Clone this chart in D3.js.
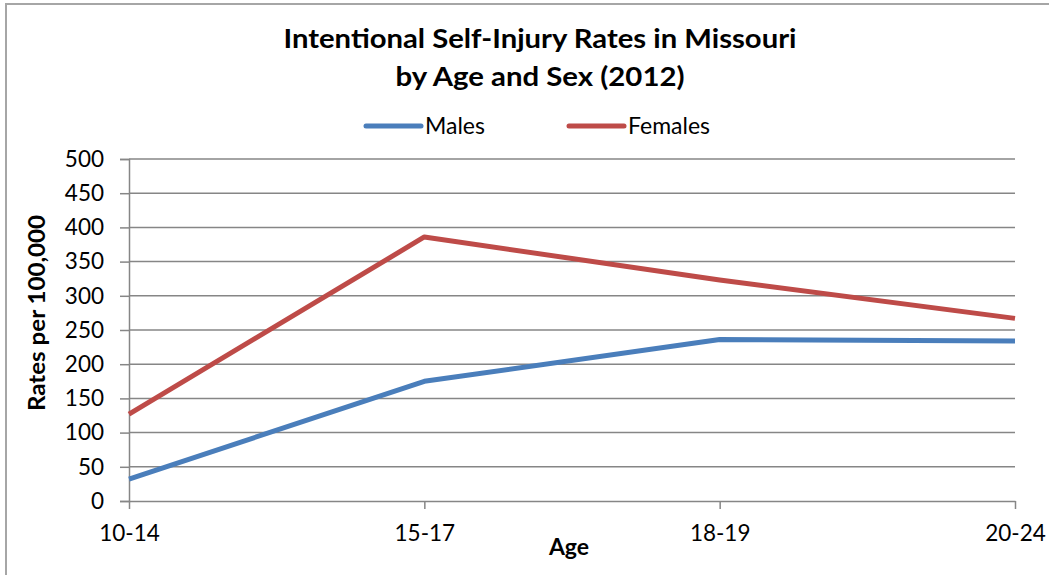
<!DOCTYPE html>
<html>
<head>
<meta charset="utf-8">
<script src="https://cdn.jsdelivr.net/npm/d3@7"></script>
<style>
  body { margin: 0; background: #fff; }
  text { font-family: Lato, "Open Sans", sans-serif; fill: #000; }
</style>
</head>
<body>
<script>
var ages = ["10-14", "15-17", "18-19", "20-24"];
var males = [32, 175, 236, 234];
var females = [127, 386, 323, 267];
var yTicks = [0, 50, 100, 150, 200, 250, 300, 350, 400, 450, 500];
var seriesNames = ["Males", "Females"];
var seriesColors = ["#4a7ebb", "#be4b48"];

var W = 1049, H = 575;
var margin = {top: 159, right: 34, bottom: 74, left: 129};
var width = W - margin.left - margin.right,
    height = H - margin.top - margin.bottom;

var svg = d3.select("body").append("svg")
    .attr("width", W)
    .attr("height", H);

// outer chart border (top and left visible)
svg.append("rect")
    .attr("x", 6).attr("y", 4)
    .attr("width", W + 20).attr("height", H + 20)
    .attr("fill", "none")
    .attr("stroke", "#a6a6a6")
    .attr("stroke-width", 2);

var x = d3.scalePoint().domain(ages).range([0, width]);
var y = d3.scaleLinear().domain([0, 500]).range([height, 0]);

var g = svg.append("g")
    .attr("transform", "translate(" + margin.left + "," + margin.top + ")");

// gridlines + y axis
var yAxis = g.append("g")
    .call(d3.axisLeft(y).tickValues(yTicks).tickSize(9).tickPadding(16));
yAxis.select(".domain").attr("stroke", "#868686").attr("stroke-width", 1.5);
yAxis.selectAll(".tick line").attr("stroke", "#868686").attr("stroke-width", 1.5);
yAxis.selectAll(".tick text").style("font-size", "22.5px").style("font-family", "Lato, sans-serif");

g.append("g").selectAll("line")
    .data(yTicks.filter(function(d) { return d > 0; }))
    .enter().append("line")
    .attr("x1", 0).attr("x2", width)
    .attr("y1", function(d) { return y(d); })
    .attr("y2", function(d) { return y(d); })
    .attr("stroke", "#868686")
    .attr("stroke-width", 1.5);

var xAxis = g.append("g")
    .attr("transform", "translate(0," + height + ")")
    .call(d3.axisBottom(x).tickSize(8).tickPadding(16).tickSizeOuter(0));
xAxis.select(".domain").attr("stroke", "#868686").attr("stroke-width", 1.5);
xAxis.selectAll(".tick line").attr("stroke", "#868686").attr("stroke-width", 1.5);
xAxis.selectAll(".tick text").style("font-size", "22.5px").style("font-family", "Lato, sans-serif");

// lines
var line = d3.line()
    .x(function(d, i) { return x(ages[i]); })
    .y(function(d) { return y(d); });

[males, females].forEach(function(vals, i) {
  g.append("path")
      .datum(vals)
      .attr("fill", "none")
      .attr("stroke", seriesColors[i])
      .attr("stroke-width", 5)
      .attr("stroke-linejoin", "round")
      .attr("d", line);
});

// title
svg.append("text")
    .attr("x", 540).attr("y", 48)
    .attr("text-anchor", "middle")
    .attr("textLength", 513).attr("lengthAdjust", "spacingAndGlyphs")
    .style("font-size", "27px").style("font-weight", "bold")
    .text("Intentional Self-Injury Rates in Missouri");
svg.append("text")
    .attr("x", 540).attr("y", 86)
    .attr("text-anchor", "middle")
    .attr("textLength", 289).attr("lengthAdjust", "spacingAndGlyphs")
    .style("font-size", "27px").style("font-weight", "bold")
    .text("by Age and Sex (2012)");

// legend
var legendX = [366, 569];
seriesNames.forEach(function(name, i) {
  svg.append("line")
      .attr("x1", legendX[i]).attr("x2", legendX[i] + 55)
      .attr("y1", 126).attr("y2", 126)
      .attr("stroke", seriesColors[i])
      .attr("stroke-width", 5)
      .attr("stroke-linecap", "round");
  svg.append("text")
      .attr("x", legendX[i] + 59).attr("y", 134)
      .style("font-size", "23px")
      .text(name);
});

// axis titles
svg.append("text")
    .attr("transform", "translate(45,313) rotate(-90)")
    .attr("text-anchor", "middle")
    .attr("textLength", 196).attr("lengthAdjust", "spacingAndGlyphs")
    .style("font-size", "23px").style("font-weight", "bold")
    .text("Rates per 100,000");
svg.append("text")
    .attr("x", 569).attr("y", 555)
    .attr("text-anchor", "middle")
    .style("font-size", "23px").style("font-weight", "bold")
    .text("Age");
</script>
</body>
</html>
